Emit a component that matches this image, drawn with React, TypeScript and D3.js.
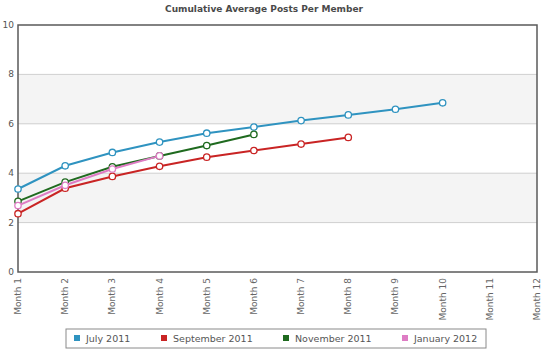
import React from 'react';
import * as d3 from 'd3';

const months = ['Month 1', 'Month 2', 'Month 3', 'Month 4', 'Month 5', 'Month 6',
  'Month 7', 'Month 8', 'Month 9', 'Month 10', 'Month 11', 'Month 12'];
const july2011 = [3.36, 4.3, 4.84, 5.26, 5.62, 5.87, 6.13, 6.36, 6.59, 6.85];
const sep2011 = [2.36, 3.39, 3.87, 4.28, 4.65, 4.92, 5.18, 5.45];
const nov2011 = [2.86, 3.64, 4.26, 4.7, 5.12, 5.57];
const jan2012 = [2.69, 3.51, 4.17, 4.7];
const yTicks = [0, 2, 4, 6, 8, 10];

const seriesNames = ['July 2011', 'September 2011', 'November 2011', 'January 2012'];
const seriesColors = ['#2f93c0', '#c92424', '#1f6a1f', '#de7cc4'];

const width = 550;
const height = 353;
const margin = { top: 25, right: 13, bottom: 81, left: 18 };

export default function App() {
  const x = d3.scalePoint<string>()
    .domain(months)
    .range([margin.left, width - margin.right]);
  const y = d3.scaleLinear()
    .domain([0, 10])
    .range([height - margin.bottom, margin.top]);

  const allSeries = [july2011, sep2011, nov2011, jan2012];
  const line = d3.line<number>()
    .x((d, i) => x(months[i]) as number)
    .y(d => y(d));

  const font = '"DejaVu Sans", Verdana, sans-serif';
  // legend layout
  const legendX = [74, 161, 283, 402];

  return (
    <svg width={width} height={height} style={{ position: 'absolute', left: 0, top: 0, background: '#fff' }}
      fontFamily={font}>
      <text x={264} y={12} textAnchor="middle" fontSize={9} fontWeight="bold" fill="#4a4a4a">
        Cumulative Average Posts Per Member
      </text>

      {/* bands */}
      {[[6, 8], [2, 4]].map(([a, b]) => (
        <rect key={a} x={margin.left} y={y(b)} width={width - margin.right - margin.left}
          height={y(a) - y(b)} fill="#f4f4f4" />
      ))}
      {/* grid */}
      {yTicks.slice(1, -1).map(t => (
        <line key={t} x1={margin.left} x2={width - margin.right} y1={y(t)} y2={y(t)}
          stroke="#cfcfcf" strokeWidth={1} />
      ))}
      <rect x={margin.left} y={margin.top} width={width - margin.right - margin.left}
        height={height - margin.bottom - margin.top} fill="none" stroke="#5a5a5a" strokeWidth={1.5} />

      {yTicks.map(t => (
        <text key={t} x={margin.left - 4} y={y(t) + 3} textAnchor="end" fontSize={9} fill="#555">{t}</text>
      ))}
      {months.map(m => (
        <text key={m} transform={`translate(${(x(m) as number) + 3},${height - margin.bottom + 6}) rotate(-90)`}
          textAnchor="end" fontSize={9} fill="#666">{m}</text>
      ))}

      {allSeries.map((s, si) => (
        <g key={si}>
          <path d={line(s) || ''} fill="none" stroke={seriesColors[si]} strokeWidth={2} />
          {s.map((v, i) => (
            <circle key={i} cx={x(months[i]) as number} cy={y(v)} r={3.2} fill="#fff"
              stroke={seriesColors[si]} strokeWidth={1.3} />
          ))}
        </g>
      ))}

      {/* legend */}
      <rect x={66} y={329} width={420} height={19} fill="#fff" stroke="#8a8a8a" strokeWidth={1} />
      {seriesNames.map((n, i) => (
        <g key={n}>
          <rect x={legendX[i]} y={335} width={6} height={6} fill={seriesColors[i]} />
          <text x={legendX[i] + 12} y={342} fontSize={9.5} fill="#555">{n}</text>
        </g>
      ))}
    </svg>
  );
}
